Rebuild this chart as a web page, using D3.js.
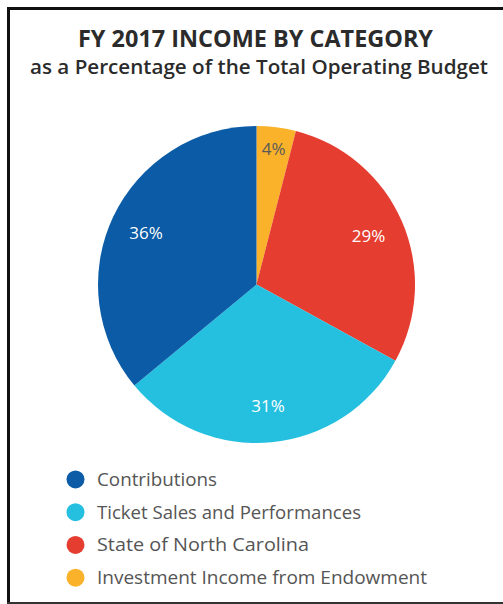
<!DOCTYPE html>
<html>
<head>
<meta charset="utf-8">
<script src="https://cdn.jsdelivr.net/npm/d3@7"></script>
<style>
  html, body { margin: 0; padding: 0; background: #fff; }
  svg { display: block; }
</style>
</head>
<body>
<svg id="chart" width="503" height="604"></svg>
<script>
const categories = ["Contributions", "Ticket Sales and Performances", "State of North Carolina", "Investment Income from Endowment"];
const values = [36, 31, 29, 4];
const labels = ["36%", "31%", "29%", "4%"];
const colors = ["#0b5ba6", "#25bfe0", "#e53d30", "#fbb22b"];
const labelColors = ["#ffffff", "#ffffff", "#ffffff", "#5a5a5a"];
// drawing order clockwise from 12 o'clock
const pieOrder = [3, 2, 1, 0];

const svg = d3.select("#chart");
const W = 503, H = 604;
const font = "'Open Sans', 'Noto Sans', sans-serif";

// frame
svg.append("line").attr("x1", 8.5).attr("x2", 8.5).attr("y1", 7).attr("y2", 604)
  .attr("stroke", "#111").attr("stroke-width", 3);
svg.append("line").attr("x1", 7).attr("x2", W).attr("y1", 8.5).attr("y2", 8.5)
  .attr("stroke", "#111").attr("stroke-width", 3);
svg.append("line").attr("x1", 7).attr("x2", W).attr("y1", 603).attr("y2", 603)
  .attr("stroke", "#333").attr("stroke-width", 2);

function fitText(sel, target) {
  const w = sel.node().getComputedTextLength();
  if (w > 0) sel.attr("textLength", target).attr("lengthAdjust", "spacingAndGlyphs");
}

const t1 = svg.append("text").attr("x", 255.5).attr("y", 47.3).attr("text-anchor", "middle")
  .attr("font-family", font).attr("font-weight", 700).attr("font-size", 23.5)
  .attr("fill", "#2b2b2b").text("FY 2017 INCOME BY CATEGORY");
fitText(t1, 355);
const t2 = svg.append("text").attr("x", 259).attr("y", 73.5).attr("text-anchor", "middle")
  .attr("font-family", font).attr("font-weight", 600).attr("font-size", 19.5)
  .attr("fill", "#2b2b2b").text("as a Percentage of the Total Operating Budget");
fitText(t2, 458);

// pie
const cx = 256.5, cy = 284.5, R = 158.5;
const data = pieOrder.map(i => ({ i, v: values[i] }));
const pie = d3.pie().value(d => d.v).sort(null);
const arcs = pie(data);
const arc = d3.arc().innerRadius(0).outerRadius(R);
const labelArc = d3.arc().innerRadius(122).outerRadius(122);
const smallLabelArc = d3.arc().innerRadius(137).outerRadius(137);

const g = svg.append("g").attr("transform", `translate(${cx},${cy})`);
g.selectAll("path").data(arcs).join("path")
  .attr("d", arc).attr("fill", d => colors[d.data.i]);

g.selectAll("text.lbl").data(arcs).join("text")
  .attr("class", "lbl")
  .attr("transform", d => {
    const c = (d.endAngle - d.startAngle < 0.4 ? smallLabelArc : labelArc).centroid(d);
    return `translate(${c[0]},${c[1]})`;
  })
  .attr("text-anchor", "middle").attr("dy", "0.36em")
  .attr("font-family", font).attr("font-size", 17)
  .attr("fill", d => labelColors[d.data.i])
  .text(d => labels[d.data.i]);

// legend
const ly = d3.scaleBand().domain(categories).range([463, 594]).paddingInner(0);
const lg = svg.append("g");
const rows = lg.selectAll("g").data(categories).join("g")
  .attr("transform", d => `translate(0,${ly(d) + ly.bandwidth() / 2})`);
rows.append("circle").attr("cx", 75.5).attr("cy", 0).attr("r", 9)
  .attr("fill", (d, i) => colors[i]);
rows.append("text").attr("x", 97).attr("y", 0).attr("dy", "0.35em")
  .attr("font-family", font).attr("font-size", 18.5).attr("fill", "#555")
  .text(d => d)
  .each(function (d, i) {
    const targets = [120, 264, 212, 330];
    fitText(d3.select(this), targets[i]);
  });
</script>
</body>
</html>
